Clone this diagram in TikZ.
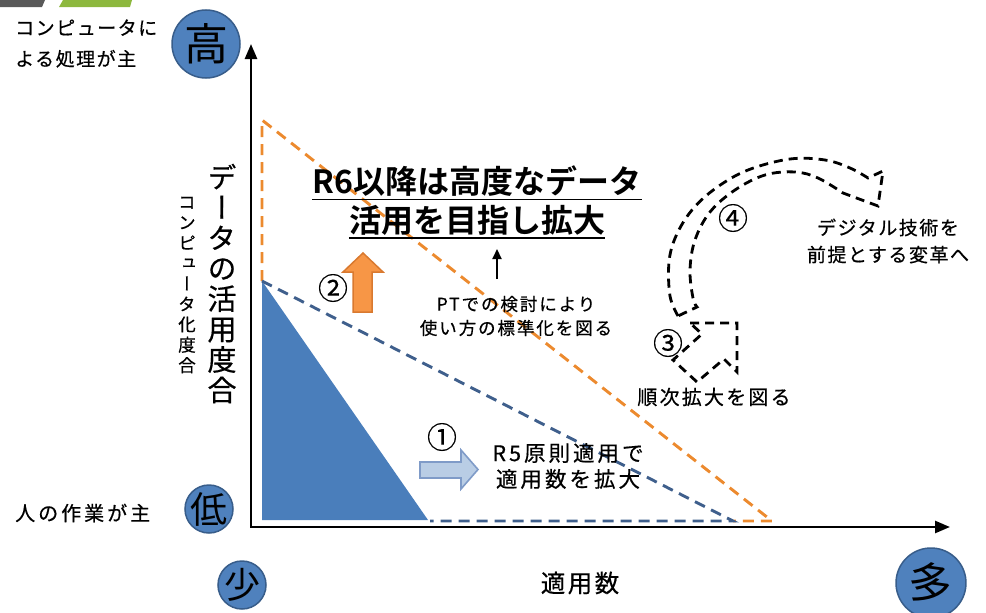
\documentclass[tikz,border=0pt]{standalone}
\usepackage{fontspec}
\usepackage{graphicx}
\usetikzlibrary{arrows.meta}
\setmainfont{Noto Sans CJK JP}[BoldFont={Noto Sans CJK JP Bold}]
\newcommand\fs[2]{\fontsize{#1}{#2}\selectfont}
\newcommand\lsp[1]{\addfontfeature{LetterSpace=#1,FakeBold=0.5}}
\newcommand\vertf{\addfontfeature{RawFeature=+vert}}
\definecolor{cblue}{HTML}{4F81BD}
\definecolor{cblueb}{HTML}{385D8A}
\definecolor{tri}{HTML}{4A7EBB}
\definecolor{dblue}{HTML}{3F5F8C}
\definecolor{dorange}{HTML}{EC8A2E}
\definecolor{aorange}{HTML}{F79646}
\definecolor{aorangeb}{HTML}{D9792F}
\definecolor{lblue}{HTML}{B9CDE5}
\definecolor{lblueb}{HTML}{7F9BC8}
\definecolor{dgray}{HTML}{595959}
\definecolor{bargreen}{HTML}{8DB83E}
\tikzset{
  lbl/.style={inner sep=0pt, align=center, text=black},
  circ/.style={circle, fill=cblue, draw=cblueb, line width=1.5pt, inner sep=-6pt, minimum size=#1},
  dl/.style={line width=2.9pt, dash pattern=on 11pt off 7pt},
  axisline/.style={line width=2.6pt, {Triangle[length=15pt,width=12pt]}-{Triangle[length=15pt,width=12pt]}},
  smallarrow/.style={line width=2.2pt, -{Triangle[length=10pt,width=9pt]}},
  arrowone/.style={fill=lblue, draw=lblueb, line width=1.6pt, line join=miter},
  arrowtwo/.style={fill=aorange, draw=aorangeb, line width=1.5pt, line join=miter},
  dsh/.style={line width=2.8pt, dash pattern=on 9pt off 6pt, line join=miter},
  ul/.style={line width=1.8pt},
  numl/.style={inner sep=0pt, text=black, font=\fs{30}{30}\addfontfeature{FakeBold=0.3}}
}
\begin{document}
\begin{tikzpicture}[x=1pt,y=-1pt]
\useasboundingbox (0,0) rectangle (986,613);
% slide bars
\fill[dgray] (0,0) -- (45,0) -- (42,7) -- (0,7) -- cycle;
\fill[bargreen] (63,0) -- (132,0) -- (130,7) -- (59,7) -- cycle;
% triangles
\fill[tri] (262,281) -- (262,520) -- (428,520) -- cycle;
\draw[dl, dorange] (262,281) -- (262,120) -- (772,521) -- (733,521);
\draw[dl, dblue] (262,281) -- (733,521) -- (430,521);
% axes
\coordinate (O) at (251,527);
\coordinate (ytip) at (251,44);
\coordinate (xtip) at (950,527);
\draw[axisline] (xtip) -- (O) -- (ytip);
% circles
\node[circ=68pt, font=\fs{44}{44}] (hi) at (206,44) {高};
\node[circ=48pt, font=\fs{37}{37}] (lo) at (209,509) {低};
\node[circ=48pt, font=\fs{36}{36}] (few) at (242,585) {少};
\node[circ=70pt, font=\fs{44}{44}, rotate=-8] (many) at (931,583) {多};
% side labels
\node[lbl, anchor=west, align=left, font=\fs{19}{31}\lsp{8}] (tcomp) at (15,43.5) {コンピュータに\\よる処理が主};
\node[lbl, anchor=west, font=\fs{20}{20}\lsp{15}] (thum) at (15,513) {人の作業が主};
\node[lbl, font=\fs{29}{30.4}\vertf\addfontfeature{FakeBold=0.5}] (tdata) at (222,283.5) {デ\\ー\\タ\\の\\活\\用\\度\\合};
\node[lbl, font=\fs{17.5}{20.4}\vertf\addfontfeature{FakeBold=0.5}] (tcompv) at (187,285) {コ\\ン\\ピ\\ュ\\ー\\タ\\化\\度\\合};
% title
\node[lbl, font=\fs{32}{32}\bfseries] (title1) at (477,181) {R6以降は高度なデータ};
\node[lbl, font=\fs{32}{32}\bfseries] (title2) at (477,220) {活用を目指し拡大};
\draw[ul] ([yshift=-3pt]title1.south west) -- ([yshift=-3pt]title1.south east);
\draw[ul] ([yshift=-3pt]title2.south west) -- ([yshift=-3pt]title2.south east);
% PT text and arrow
\node[lbl, font=\fs{17.5}{24}\lsp{11}] (tpt) at (516,316) {PTでの検討により\\使い方の標準化を図る};
\coordinate (pta) at (497,279);
\coordinate (ptb) at (497,249);
\draw[smallarrow] (pta) -- (ptb);
% R5
\node[lbl, font=\fs{21.5}{26}\lsp{14}] (tr5) at (568,466) {R5原則適用で\\適用数を拡大};
\node[lbl, font=\fs{20}{20}\lsp{11}] (tjun) at (714,397) {順次拡大を図る};
\node[lbl, font=\fs{19}{27}\lsp{8}] (tdig) at (888,241) {デジタル技術を\\前提とする変革へ};
\node[lbl, font=\fs{24.5}{24}\lsp{10}] (tnum) at (580,583) {適用数};
% numbers
\node[numl] (n1) at (442,437) {①};
\node[numl] (n2) at (333,288) {②};
\node[numl] (n3) at (668,343) {③};
\node[numl] (n4) at (733,218) {④};
% block arrows
\draw[arrowone] (420,462) -- (461,462) -- (461,450) -- (478,469.5) -- (461,489) -- (461,478) -- (420,478) -- cycle;
\draw[arrowtwo] (353,312) -- (353,272) -- (343,272) -- (363,253) -- (383,272) -- (372,272) -- (372,312) -- cycle;
\draw[dsh] (690,323) -- (737,323) -- (737,372) -- (724,359) -- (697,382) -- (673,360) -- (702,334) -- cycle;
\draw[dsh] (678,316) -- plot[smooth, tension=0.6] coordinates {(678,316) (670,296) (669,262) (676,236) (692,210) (716,188) (748,170) (790,159) (825,160) (850,168) (868,178)} -- (883,171) -- (878,206) -- (843,193) -- plot[smooth, tension=0.6] coordinates {(843,193) (818,178) (795,172) (765,175) (735,190) (710,212) (695,240) (690,270) (693,298) (697,307)} -- cycle;
\end{tikzpicture}
\end{document}
